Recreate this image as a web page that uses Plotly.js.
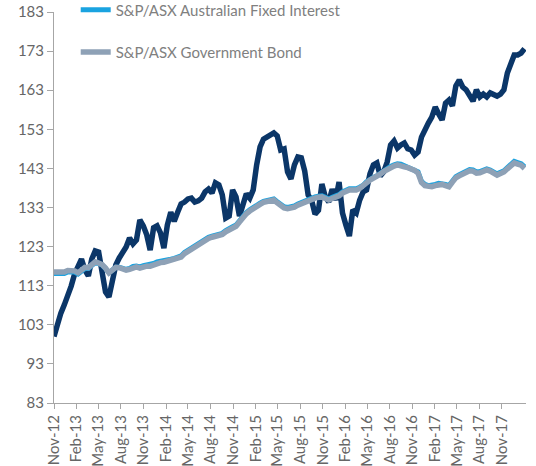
<!DOCTYPE html>
<html>
<head>
<meta charset="utf-8">
<script src="https://cdn.plot.ly/plotly-3.0.1.min.js"></script>
<style>html,body{margin:0;padding:0;background:#fff;}#chart{width:536px;height:466px;}</style>
</head>
<body>
<div id="chart"></div>
<script>
// Series sampled every 14 days starting 1 Nov 2012
const startDate = "2012-11-01";
const stepDays = 14;

const seriesNames = ["Benchmark (unlabelled)", "S&P/ASX Australian Fixed Interest", "S&P/ASX Government Bond"];

const navyValues = [
100.0,103.5,106.0,108.1,110.4,112.9,116.0,118.0,119.8,117.0,
115.5,119.8,121.9,121.6,116.7,111.4,110.1,114.2,118.3,120.1,
121.4,122.9,125.2,123.7,124.7,129.8,128.3,126.0,122.1,127.8,
128.3,126.5,122.6,128.5,131.8,129.5,131.8,133.9,134.4,135.2,
135.4,134.4,134.7,135.4,137.0,137.7,136.7,139.3,138.8,136.2,
130.3,130.8,137.5,135.7,130.8,133.6,136.5,135.4,137.5,143.9,
148.5,150.5,151.0,151.8,152.1,151.3,147.7,148.0,142.1,140.3,
143.9,145.9,145.7,142.3,136.2,134.9,131.3,132.3,139.0,135.7,
134.4,137.7,134.9,139.5,131.6,128.5,125.7,132.4,131.6,134.9,
137.0,137.5,141.6,143.9,144.4,141.1,142.1,144.6,149.0,150.0,
148.2,149.0,149.5,148.0,147.7,146.4,147.2,151.0,153.1,154.6,
156.1,158.7,156.9,155.4,159.7,160.5,159.0,164.1,165.6,163.8,
163.1,161.3,160.2,163.1,161.3,162.0,161.3,162.3,162.0,161.5,
162.0,163.1,167.4,170.2,172.0,172.0,172.5,173.6];

const afiValues = [
116.1,116.1,116.2,116.1,116.5,116.6,116.5,116.0,116.9,117.4,
117.4,118.1,118.9,118.7,118.3,117.4,116.3,117.0,117.7,117.7,
117.5,117.2,117.4,117.9,118.0,117.8,118.1,118.3,118.3,118.7,
119.1,119.2,119.3,119.6,119.8,120.0,120.2,120.6,121.5,122.1,
122.7,123.3,123.9,124.5,124.9,125.4,125.7,125.9,126.1,126.4,
127.1,127.7,128.1,128.5,129.6,130.9,131.7,132.4,133.1,133.7,
134.1,134.6,134.9,135.2,135.2,134.5,133.7,133.2,133.0,133.1,
133.4,133.9,134.3,134.8,135.1,135.4,135.7,135.9,136.0,135.6,
135.2,135.6,135.9,136.3,137.0,137.4,137.8,137.8,137.8,138.2,
138.7,139.6,140.3,140.7,141.1,141.8,142.5,143.1,143.5,143.9,
144.2,144.1,143.7,143.5,143.2,142.8,142.1,139.7,138.9,138.6,
138.6,138.9,139.2,139.2,138.9,138.6,139.8,140.9,141.4,141.8,
142.4,142.7,142.6,142.1,142.2,142.6,142.9,142.6,142.2,141.6,
142.0,142.4,143.2,144.1,144.8,144.5,144.2,143.4];

const govValues = [
116.5,116.5,116.6,116.5,116.9,117.0,116.8,116.3,117.2,117.7,
117.6,118.3,119.1,118.8,118.4,117.5,116.3,117.0,117.7,117.6,
117.4,117.0,117.2,117.7,117.8,117.5,117.8,118.0,118.0,118.4,
118.8,118.9,119.0,119.3,119.5,119.7,119.9,120.3,121.2,121.8,
122.4,123.0,123.6,124.2,124.6,125.1,125.4,125.6,125.8,126.1,
126.8,127.4,127.8,128.2,129.3,130.6,131.4,132.1,132.8,133.4,
133.8,134.3,134.6,134.9,134.9,134.2,133.4,132.9,132.7,132.8,
133.1,133.6,134.0,134.5,134.8,135.1,135.4,135.6,135.7,135.3,
134.9,135.3,135.6,136.0,136.7,137.1,137.5,137.5,137.5,137.9,
138.4,139.3,140.0,140.4,140.8,141.5,142.2,142.8,143.2,143.6,
143.9,143.8,143.4,143.2,142.9,142.5,141.8,139.4,138.6,138.3,
138.3,138.6,138.9,138.9,138.6,138.3,139.5,140.6,141.1,141.5,
142.1,142.4,142.3,141.8,141.9,142.3,142.6,142.3,141.9,141.3,
141.7,142.1,142.9,143.8,144.4,144.1,143.8,143.0];

const yTicks = [83, 93, 103, 113, 123, 133, 143, 153, 163, 173, 183];

const xTickDates = [
"2012-11-01","2013-02-01","2013-05-01","2013-08-01","2013-11-01",
"2014-02-01","2014-05-01","2014-08-01","2014-11-01",
"2015-02-01","2015-05-01","2015-08-01","2015-11-01",
"2016-02-01","2016-05-01","2016-08-01","2016-11-01",
"2017-02-01","2017-05-01","2017-08-01","2017-11-01"];
const xTickLabels = [
"Nov-12","Feb-13","May-13","Aug-13","Nov-13",
"Feb-14","May-14","Aug-14","Nov-14",
"Feb-15","May-15","Aug-15","Nov-15",
"Feb-16","May-16","Aug-16","Nov-16",
"Feb-17","May-17","Aug-17","Nov-17"];

function buildDates(n) {
  const out = [];
  const t0 = new Date(startDate + "T00:00:00Z").getTime();
  for (let i = 0; i < n; i++) {
    const d = new Date(t0 + i * stepDays * 86400000);
    out.push(d.toISOString().slice(0, 10));
  }
  return out;
}
const dates = buildDates(navyValues.length);

const FONT = "Lato, 'Open Sans', sans-serif";

const traces = [
  {x: dates, y: navyValues, name: seriesNames[0], type: "scatter", mode: "lines",
   line: {color: "#0B3668", width: 5.5}, showlegend: false},
  {x: dates, y: afiValues, name: seriesNames[1], type: "scatter", mode: "lines",
   line: {color: "#1AA3E0", width: 5}, legend: "legend"},
  {x: dates, y: govValues, name: seriesNames[2], type: "scatter", mode: "lines",
   line: {color: "#8EA1B6", width: 5.5}, legend: "legend2"}
];

const legendCommon = {
  xanchor: "left", yanchor: "middle", bgcolor: "rgba(0,0,0,0)", borderwidth: 0,
  font: {family: FONT, size: 15, color: "#808080"}
};

const layout = {
  width: 536, height: 466,
  margin: {l: 54, r: 10, t: 12, b: 63, autoexpand: false},
  paper_bgcolor: "#ffffff", plot_bgcolor: "#ffffff",
  font: {family: FONT, size: 15, color: "#666666"},
  xaxis: {
    type: "date",
    range: ["2012-11-01", "2018-02-07"],
    tickvals: xTickDates, ticktext: xTickLabels,
    tickangle: -90, ticks: "outside", ticklen: 5, tickcolor: "#A6A6A6",
    showline: true, linecolor: "#A6A6A6", linewidth: 1,
    showgrid: false, zeroline: false,
    tickfont: {family: FONT, size: 15, color: "#666666"}
  },
  yaxis: {
    range: [83, 183], tickvals: yTicks, ticktext: yTicks.map(String),
    ticks: "outside", ticklen: 6, tickcolor: "#A6A6A6",
    showline: true, linecolor: "#A6A6A6", linewidth: 1,
    showgrid: false, zeroline: false,
    tickfont: {family: FONT, size: 15, color: "#666666"}
  },
  legend: Object.assign({x: 0.046, y: 1.005}, legendCommon),
  legend2: Object.assign({x: 0.046, y: 0.897}, legendCommon),
  showlegend: true
};

Plotly.newPlot("chart", traces, layout, {displayModeBar: false, staticPlot: true});
</script>
</body>
</html>
